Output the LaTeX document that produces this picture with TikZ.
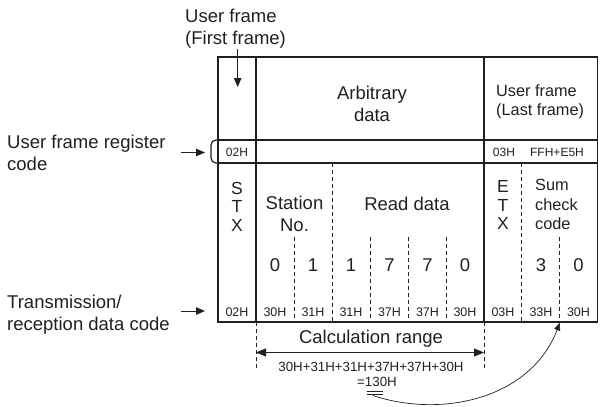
\documentclass[tikz,border=0pt]{standalone}
\usepackage{fontspec}
\setmainfont{Liberation Sans}
\usetikzlibrary{arrows.meta}
\definecolor{ink}{HTML}{231F20}
\begin{document}
\begin{tikzpicture}[x=1pt,y=-1pt,
  frame/.style={line width=1.2pt, draw=ink},
  thickframe/.style={line width=1.8pt, draw=ink},
  div/.style={dash pattern=on 4pt off 3pt, line width=0.8pt, draw=ink},
  lbl/.style={inner sep=0pt, text=ink, align=center},
  big/.style={lbl, font=\fontsize{18.5}{22}\selectfont},
  stack/.style={lbl, font=\fontsize{17.5}{18.5}\selectfont},
  mid/.style={lbl, font=\fontsize{16.3}{19.5}\selectfont},
  hex/.style={lbl, font=\fontsize{12.5}{14}\selectfont},
  reg/.style={lbl, font=\fontsize{12}{14}\selectfont},
  frm/.style={lbl, font=\fontsize{13.3}{15}\selectfont},
  ptr/.style={-{Triangle[length=9pt,width=7.5pt]}, line width=0.9pt, draw=ink},
  rng/.style={{Triangle[length=10pt,width=8pt]}-{Triangle[length=10pt,width=8pt]}, line width=0.9pt, draw=ink},
  curvearrow/.style={-{Triangle[length=8pt,width=6pt]}, line width=0.7pt, draw=ink}
]
\useasboundingbox (0,0) rectangle (600,407);

% ---- outside labels
\node[big, align=left, anchor=west] (uf) at (185,29) {User frame\\(First frame)};
\node[big, align=left, anchor=west] (reglab) at (7,153) {User frame register\\code};
\node[big, align=left, anchor=west] (txlab) at (7,315) {Transmission/\\reception data code};

\coordinate (ufTip) at (237.7,87);
\coordinate (regA) at (181,152.5);
\coordinate (regB) at (205,152.5);
\coordinate (txA) at (181,311);
\coordinate (txB) at (205,311);
\draw[ptr] (uf.south -| ufTip) -- (ufTip);
\draw[ptr] (regA) -- (regB);
\draw[ptr] (txA) -- (txB);

% ---- table frame
\draw[frame] (218,57) rectangle (597.5,322);
\draw[frame] (218,140) -- (597.5,140);
\draw[frame] (218,163) -- (597.5,163);
\draw[frame, rounded corners=5pt] (218,140) -- (211,140) -- (211,163) -- (218,163);
\draw[frame] (256,57) -- (256,322);
\draw[thickframe] (484,57) -- (484,322);

% ---- dashed dividers
\draw[div] (294.5,237) -- (294.5,322);
\draw[div] (332.5,163) -- (332.5,322);
\draw[div] (370.5,237) -- (370.5,322);
\draw[div] (408.5,237) -- (408.5,322);
\draw[div] (446.5,237) -- (446.5,322);
\draw[div] (521.8,163) -- (521.8,322);
\draw[div] (559.5,237) -- (559.5,322);
\draw[div] (256,322) -- (256,370);
\draw[div] (484,322) -- (484,370);

% ---- upper cells
\node[big] (arb) at (372,103.5) {Arbitrary\\data};
\node[mid, align=left, anchor=west] (last) at (496,102) {User frame\\(Last frame)};
\node[reg] (r02) at (237,152.5) {02H};
\node[reg] (r03) at (504,152.5) {03H};
\node[reg] (rff) at (557,152.5) {FFH+E5H};

% ---- lower cells
\node[stack] (stx) at (237,206.5) {S\\T\\X};
\node[big] (stn) at (294.5,214) {Station\\No.};
\node[big] (rd) at (407,204) {Read data};
\node[stack] (etx) at (503,205) {E\\T\\X};
\node[mid, align=left, anchor=west] (sum) at (535,204.5) {Sum\\check\\code};

\foreach \x/\d [count=\i] in {275/0,313/1,351/1,389.5/7,427.5/7,465/0,541/3,578.5/0}
  \node[big] (dg\i) at (\x,265) {\d};

\foreach \x/\h [count=\i] in {237/02H,275/30H,313/31H,351/31H,389.5/37H,427.5/37H,465/30H,503/03H,541/33H,578.5/30H}
  \node[hex] (hx\i) at (\x,312.5) {\h};

% ---- calculation range
\coordinate (cl) at (256,352.5);
\coordinate (cr) at (484,352.5);
\draw[rng] (cl) -- (cr);
\node[big] (calc) at (371,338.5) {Calculation range};
\node[frm] (form) at (371,366.5) {30H+31H+31H+37H+37H+30H};
\node[frm] (res) at (377,381.5) {=130H};
\draw[line width=0.9pt, draw=ink] (366.5,391.3) -- (382.5,391.3);
\draw[line width=0.9pt, draw=ink] (366.5,394) -- (382.5,394);

\coordinate (ul) at (373,395.5);
\coordinate (sumTip) at (560,322.5);
\draw[curvearrow] (ul) .. controls (440,418) and (530,400) .. (sumTip);
\end{tikzpicture}
\end{document}
